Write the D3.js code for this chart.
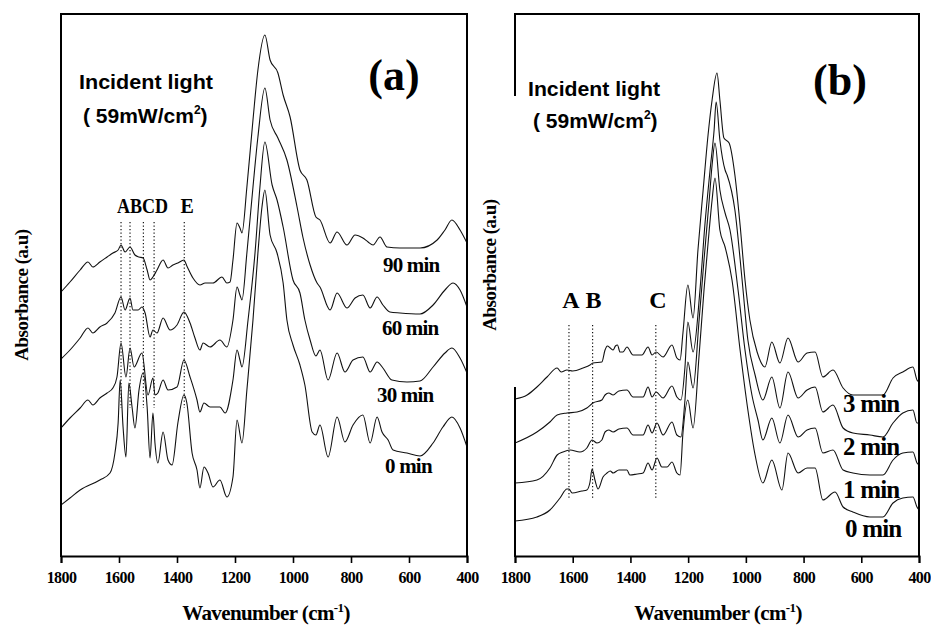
<!DOCTYPE html>
<html><head><meta charset="utf-8">
<script src="https://cdn.jsdelivr.net/npm/d3@7"></script>
<style>
html,body{margin:0;padding:0;background:#fff;}
svg{display:block;background:#fff;}
.serif{font-family:"Liberation Serif","Times New Roman",serif;font-weight:bold;fill:#000;}
.sans{font-family:"Liberation Sans",Arial,sans-serif;font-weight:bold;fill:#000;}
</style></head><body>
<svg id="chart" width="931" height="625"></svg>
<script>
// ---------- DATA (wavenumber cm-1, absorbance a.u.) ----------
const wavenumberTicks = [1800, 1600, 1400, 1200, 1000, 800, 600, 400];

const a_labels = ["90 min", "60 min", "30 min", "0 min"];
const a_90min = [[1800,2.64],[1769,2.74],[1734,2.86],[1707,2.94],[1690,2.89],[1666,2.94],[1641,2.99],[1621,3.03],[1603,3.06],[1593,3.11],[1579,3.04],[1562,3.09],[1545,3.01],[1531,2.99],[1517,2.98],[1503,2.86],[1493,2.76],[1483,2.79],[1469,2.86],[1448,2.96],[1431,2.88],[1414,2.91],[1397,2.93],[1376,2.96],[1366,2.90],[1345,2.78],[1321,2.71],[1303,2.73],[1276,2.73],[1245,2.79],[1228,2.73],[1217,2.74],[1207,2.96],[1193,3.33],[1183,3.28],[1176,3.23],[1159,3.69],[1138,4.36],[1121,4.86],[1097,5.21],[1079,4.96],[1052,4.83],[1034,4.61],[1010,4.39],[976,3.86],[952,3.76],[921,3.39],[907,3.36],[872,3.13],[848,3.24],[814,3.11],[786,3.21],[759,3.18],[741,3.14],[724,3.11],[700,3.19],[676,3.09],[631,3.08],[562,3.08],[503,3.16],[476,3.26],[452,3.36],[424,3.26],[400,3.13]];
const a_60min = [[1800,1.97],[1769,2.06],[1734,2.18],[1707,2.28],[1690,2.23],[1666,2.29],[1641,2.33],[1614,2.43],[1593,2.59],[1579,2.46],[1562,2.58],[1552,2.46],[1534,2.46],[1521,2.49],[1510,2.43],[1493,2.19],[1483,2.26],[1469,2.23],[1448,2.38],[1424,2.26],[1400,2.31],[1376,2.44],[1355,2.33],[1338,2.18],[1321,2.06],[1310,2.13],[1286,2.09],[1252,2.16],[1228,2.09],[1207,2.36],[1193,2.69],[1183,2.61],[1176,2.56],[1159,3.03],[1138,3.69],[1121,4.19],[1097,4.68],[1079,4.36],[1052,4.18],[1021,3.96],[986,3.49],[966,3.19],[941,2.91],[917,2.73],[907,2.69],[872,2.46],[848,2.63],[814,2.48],[786,2.58],[759,2.61],[734,2.48],[710,2.59],[690,2.51],[666,2.44],[631,2.43],[562,2.42],[517,2.51],[476,2.66],[448,2.73],[424,2.66],[400,2.49]];
const a_30min = [[1800,1.28],[1769,1.38],[1734,1.48],[1707,1.56],[1690,1.51],[1666,1.58],[1641,1.63],[1621,1.68],[1607,1.79],[1593,2.13],[1576,1.79],[1562,2.08],[1548,1.89],[1521,2.03],[1500,1.61],[1483,1.78],[1476,1.61],[1466,1.63],[1448,1.76],[1431,1.66],[1400,1.69],[1376,1.96],[1355,1.79],[1331,1.56],[1321,1.44],[1307,1.53],[1286,1.49],[1252,1.49],[1234,1.43],[1207,1.76],[1193,2.06],[1183,1.96],[1176,1.89],[1155,2.36],[1131,3.03],[1114,3.69],[1097,4.14],[1072,3.71],[1055,3.56],[1034,3.29],[1000,2.76],[976,2.63],[959,2.36],[941,2.16],[921,2.00],[907,2.06],[879,1.76],[848,2.03],[821,1.84],[793,1.96],[759,1.99],[734,1.84],[710,1.94],[690,1.88],[659,1.76],[607,1.74],[562,1.75],[517,1.89],[476,2.03],[452,2.08],[424,1.98],[400,1.83]];
const a_0min = [[1800,0.51],[1769,0.58],[1734,0.66],[1666,0.76],[1631,0.83],[1614,1.03],[1603,1.33],[1596,1.76],[1586,1.29],[1576,0.99],[1566,1.73],[1555,1.49],[1545,1.28],[1531,1.66],[1517,1.83],[1503,1.49],[1493,0.98],[1483,1.43],[1476,1.13],[1466,0.93],[1448,1.24],[1431,0.96],[1417,0.91],[1397,1.33],[1376,1.61],[1366,1.53],[1348,1.03],[1331,0.86],[1321,0.68],[1307,0.89],[1293,0.83],[1276,0.69],[1252,0.76],[1228,0.59],[1207,0.79],[1193,1.36],[1176,1.13],[1159,1.66],[1138,2.36],[1121,3.03],[1107,3.49],[1097,3.66],[1079,3.21],[1055,3.03],[1034,2.73],[1021,2.36],[1000,2.11],[976,1.91],[959,1.71],[934,1.24],[921,1.21],[907,1.31],[879,0.99],[848,1.39],[821,1.14],[793,1.31],[759,1.41],[734,1.13],[710,1.39],[693,1.24],[672,1.16],[655,1.06],[607,1.03],[562,1.00],[517,1.13],[483,1.29],[452,1.39],[424,1.28],[400,1.09]];
const a_bandLabels = ["A", "B", "C", "D", "E"];
const a_bandPositions = [1593, 1562, 1516, 1479, 1375];

const b_labels = ["3 min", "2 min", "1 min", "0 min"];
const b_3min = [[1800,1.57],[1758,1.61],[1724,1.69],[1689,1.79],[1654,1.88],[1640,1.84],[1620,1.86],[1600,1.85],[1564,1.88],[1540,1.91],[1530,1.93],[1499,1.94],[1488,2.06],[1480,2.10],[1470,2.08],[1460,2.06],[1452,2.10],[1445,2.11],[1436,2.04],[1426,2.04],[1412,2.09],[1391,2.01],[1360,2.01],[1339,2.09],[1325,2.01],[1311,2.04],[1287,1.99],[1256,2.11],[1239,1.98],[1228,1.96],[1218,2.23],[1201,2.71],[1183,2.38],[1166,3.06],[1148,3.66],[1131,4.21],[1117,4.56],[1100,4.83],[1090,4.56],[1076,4.18],[1058,4.13],[1038,3.81],[1020,3.31],[1003,2.76],[986,2.36],[961,2.04],[934,1.89],[910,2.14],[882,1.93],[854,2.18],[819,1.94],[788,2.03],[760,2.04],[733,1.79],[698,1.86],[663,1.68],[629,1.61],[570,1.61],[525,1.61],[490,1.78],[456,1.84],[421,1.89],[407,1.76],[400,1.74]];
const b_2min = [[1800,1.13],[1724,1.24],[1679,1.34],[1654,1.41],[1620,1.43],[1585,1.44],[1551,1.48],[1530,1.53],[1499,1.56],[1488,1.61],[1475,1.63],[1460,1.61],[1440,1.65],[1412,1.66],[1391,1.59],[1356,1.59],[1339,1.69],[1325,1.59],[1311,1.64],[1287,1.58],[1256,1.70],[1239,1.59],[1225,1.56],[1211,1.89],[1201,2.34],[1183,2.04],[1159,2.66],[1142,3.31],[1124,3.86],[1110,4.26],[1103,4.54],[1090,4.16],[1072,3.86],[1065,3.81],[1038,3.46],[1013,2.76],[993,2.16],[968,1.81],[941,1.56],[910,1.79],[882,1.48],[854,1.84],[819,1.58],[788,1.66],[760,1.69],[733,1.44],[698,1.51],[663,1.28],[629,1.23],[570,1.21],[525,1.19],[490,1.33],[456,1.43],[421,1.46],[407,1.33],[400,1.33]];
const b_1min = [[1800,0.73],[1724,0.76],[1679,0.88],[1654,1.01],[1634,1.04],[1609,1.06],[1575,1.04],[1551,1.08],[1533,1.16],[1516,1.13],[1499,1.16],[1488,1.24],[1475,1.26],[1460,1.24],[1440,1.27],[1412,1.28],[1391,1.21],[1356,1.21],[1339,1.31],[1325,1.23],[1308,1.33],[1287,1.21],[1256,1.34],[1239,1.21],[1225,1.19],[1211,1.56],[1201,1.94],[1183,1.68],[1162,2.36],[1145,2.96],[1127,3.56],[1117,3.91],[1107,4.13],[1090,3.66],[1072,3.43],[1055,3.26],[1027,2.66],[1003,2.06],[979,1.61],[958,1.36],[941,1.16],[910,1.38],[882,1.13],[854,1.41],[819,1.19],[788,1.26],[760,1.28],[733,1.03],[698,1.06],[663,0.86],[629,0.83],[570,0.81],[525,0.81],[490,0.96],[456,1.03],[421,1.04],[407,0.93],[400,0.91]];
const b_0min = [[1800,0.35],[1724,0.39],[1679,0.46],[1644,0.58],[1620,0.67],[1613,0.67],[1602,0.63],[1568,0.65],[1551,0.66],[1540,0.74],[1533,0.87],[1523,0.76],[1512,0.67],[1495,0.79],[1481,0.83],[1470,0.85],[1460,0.83],[1440,0.86],[1412,0.86],[1402,0.81],[1377,0.82],[1356,0.83],[1339,0.93],[1325,0.86],[1308,0.98],[1291,0.89],[1273,0.89],[1256,0.94],[1239,0.83],[1228,0.81],[1218,1.23],[1201,1.56],[1183,1.28],[1162,2.01],[1145,2.66],[1127,3.26],[1117,3.56],[1107,3.78],[1090,3.26],[1072,3.09],[1048,2.76],[1020,2.06],[993,1.46],[968,1.01],[941,0.73],[910,0.96],[875,0.66],[854,1.03],[819,0.83],[788,0.88],[760,0.88],[733,0.56],[691,0.64],[663,0.49],[629,0.44],[570,0.39],[525,0.39],[490,0.53],[456,0.58],[421,0.59],[407,0.49],[400,0.46]];
const b_bandLabels = ["A", "B", "C"];
const b_bandPositions = [1613, 1531, 1312];

// ---------- LAYOUT ----------
const svg = d3.select("#chart");
const TOP = 14, BOTTOM = 556;
const Y = d3.scaleLinear().domain([0, 5.42]).range([BOTTOM, TOP]);

const panels = [
  { id: "a", left: 61, right: 467, series: [a_90min, a_60min, a_30min, a_0min], labels: a_labels,
    labelX: [383, 382, 377, 385], labelY: [272, 335, 402, 473], labelSize: 21,
    bands: a_bandLabels, bandPos: a_bandPositions, bandTop: 3.34, bandBottom: 1.48, bandTextY: 213, bandSize: 20,
    mergeFirst: 4, bandDx: [3,4,3,5,3],
    tag: "(a)", tagX: 394, tagY: 90, il: [79, 89, 134], ilu: [83, 123, 129],
    title: 266, gap: null, ylabel: 21, ylabelY: 295 },
  { id: "b", left: 515, right: 919, series: [b_3min, b_2min, b_1min, b_0min], labels: b_labels,
    labelX: [843, 843, 843, 845], labelY: [412, 455, 498, 537], labelSize: 25,
    bands: b_bandLabels, bandPos: b_bandPositions, bandTop: 2.31, bandBottom: 0.56, bandTextY: 308, bandSize: 24,
    mergeFirst: 0, bandDx: [2,1,2],
    tag: "(b)", tagX: 840, tagY: 95, il: [528, 96, 132], ilu: [533, 128, 127],
    title: 718, gap: [95, 388], ylabel: 489, ylabelY: 265 }
];

panels.forEach(p => {
  const x = d3.scaleLinear().domain([1800, 400]).range([p.left, p.right]);
  const g = svg.append("g");

  g.append("clipPath").attr("id", "clip" + p.id)
    .append("rect").attr("x", p.left).attr("y", TOP).attr("width", p.right - p.left).attr("height", BOTTOM - TOP);

  // dotted band markers
  p.bandPos.forEach((wn, i) => {
    g.append("line").attr("x1", x(wn)).attr("x2", x(wn))
      .attr("y1", Y(p.bandTop)).attr("y2", Y(p.bandBottom))
      .attr("stroke", "#000").attr("stroke-width", 1.1).attr("stroke-dasharray", "1.2,2.3");
    if (i >= p.mergeFirst) {
      g.append("text").attr("class", "serif").attr("x", x(wn) + p.bandDx[i]).attr("y", p.bandTextY)
        .attr("text-anchor", "middle").attr("font-size", p.bandSize).text(p.bands[i]);
    }
  });
  if (p.mergeFirst > 0) {
    const x0 = x(p.bandPos[0]) - 4, x1 = x(p.bandPos[p.mergeFirst - 1]) + 14;
    g.append("text").attr("class", "serif").attr("x", x0).attr("y", p.bandTextY)
      .attr("font-size", p.bandSize).attr("textLength", x1 - x0).attr("lengthAdjust", "spacingAndGlyphs")
      .text(p.bands.slice(0, p.mergeFirst).join(""));
  }

  // spectra
  const line = d3.line().x(d => x(d[0])).y(d => Y(d[1])).curve(d3.curveMonotoneX);
  g.append("g").attr("clip-path", `url(#clip${p.id})`)
    .selectAll("path").data(p.series).join("path")
    .attr("d", line).attr("fill", "none").attr("stroke", "#111").attr("stroke-width", 1.1);

  // frame
  const fr = g.append("g").attr("stroke", "#000").attr("stroke-width", 2).attr("stroke-linecap", "square");
  fr.append("line").attr("x1", p.left).attr("x2", p.right).attr("y1", TOP).attr("y2", TOP);
  fr.append("line").attr("x1", p.right).attr("x2", p.right).attr("y1", TOP).attr("y2", BOTTOM);
  if (p.gap) {
    fr.append("line").attr("x1", p.left).attr("x2", p.left).attr("y1", TOP).attr("y2", p.gap[0]);
    fr.append("line").attr("x1", p.left).attr("x2", p.left).attr("y1", p.gap[1]).attr("y2", BOTTOM);
  } else {
    fr.append("line").attr("x1", p.left).attr("x2", p.left).attr("y1", TOP).attr("y2", BOTTOM);
  }

  // x axis
  const ax = g.append("g").attr("transform", `translate(0,${BOTTOM})`)
    .call(d3.axisBottom(x).tickValues(wavenumberTicks).tickFormat(d3.format("d")).tickSize(7).tickPadding(9));
  ax.select(".domain").attr("stroke-width", 2);
  ax.selectAll(".tick line").attr("stroke-width", 1.6);
  ax.selectAll("text").attr("class", "serif").attr("font-size", 16).attr("letter-spacing", "-0.6");

  // axis titles
  const t = g.append("text").attr("class", "serif").attr("x", p.title).attr("y", 620)
    .attr("text-anchor", "middle").attr("font-size", 21).attr("letter-spacing", "-0.6");
  t.append("tspan").text("Wavenumber (cm");
  t.append("tspan").attr("dy", -8).attr("font-size", 13).text("-1");
  t.append("tspan").attr("dy", 8).text(")");

  g.append("text").attr("class", "serif")
    .attr("transform", `translate(${p.ylabel + 7},${p.ylabelY}) rotate(-90)`)
    .attr("text-anchor", "middle").attr("font-size", 19).attr("letter-spacing", "-0.5")
    .text("Absorbance (a.u)");

  // curve time labels
  p.labels.forEach((lab, i) => {
    g.append("text").attr("class", "serif").attr("x", p.labelX[i]).attr("y", p.labelY[i])
      .attr("font-size", p.labelSize).attr("letter-spacing", "-0.8").text(lab);
  });

  // panel tag
  g.append("text").attr("class", "serif").attr("x", p.tagX).attr("y", p.tagY)
    .attr("text-anchor", "middle").attr("font-size", 44).text(p.tag);

  // incident light annotation
  g.append("text").attr("class", "sans").attr("x", p.il[0]).attr("y", p.il[1])
    .attr("font-size", 21).attr("textLength", p.il[2]).attr("lengthAdjust", "spacingAndGlyphs")
    .text("Incident light");
  const u = g.append("text").attr("class", "sans").attr("x", p.ilu[0]).attr("y", p.ilu[1]).attr("font-size", 21);
  u.append("tspan").text("( 59mW/cm");
  u.append("tspan").attr("dy", -9).attr("font-size", 12).text("2");
  u.append("tspan").attr("dy", 9).text(")");
});
</script>
</body></html>
